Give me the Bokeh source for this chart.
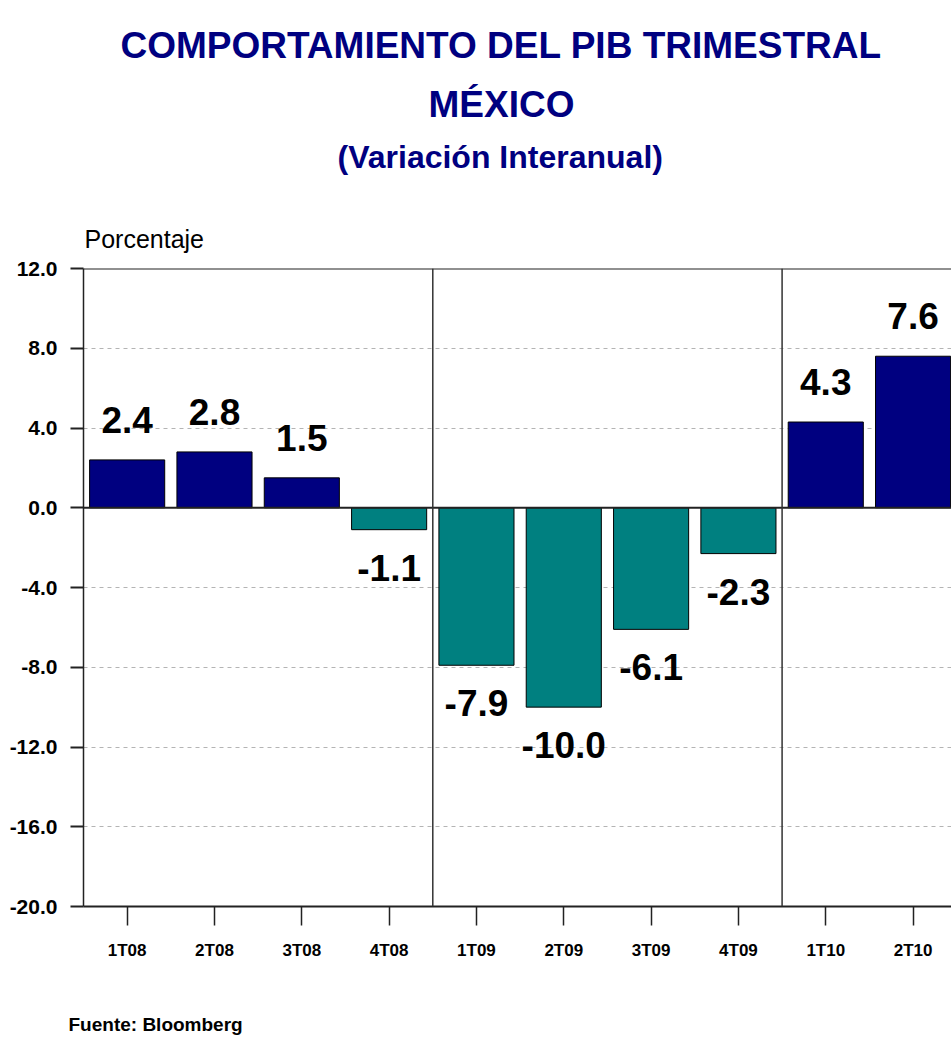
from bokeh.plotting import figure
from bokeh.models import Range1d, FixedTicker, NumeralTickFormatter, Span, Title, ColumnDataSource
from bokeh.core.properties import value
from bokeh.embed import file_html
from bokeh.resources import INLINE

# ---- data ----
quarters = ["1T08", "2T08", "3T08", "4T08", "1T09", "2T09", "3T09", "4T09", "1T10", "2T10"]
pib = [2.4, 2.8, 1.5, -1.1, -7.9, -10.0, -6.1, -2.3, 4.3, 7.6]
y_ticks = [-20, -16, -12, -8, -4, 0, 4, 8, 12]
title_lines = ["COMPORTAMIENTO DEL PIB TRIMESTRAL", "MÉXICO", "(Variación Interanual)"]
y_title = "Porcentaje"
source_note = "Fuente:  Bloomberg"

FONT = "Liberation Sans"
NAVY = "#000080"
TEAL = "#008080"

xs = list(range(len(quarters)))
colors = [NAVY if v >= 0 else TEAL for v in pib]
labels = [f"{v:.1f}" for v in pib]
yoff = [-40 if v >= 0 else 38 for v in pib]
src = ColumnDataSource(dict(x=xs, v=pib, color=colors, label=labels, yoff=yoff))

year_breaks = [i - 0.5 for i in range(1, len(quarters)) if quarters[i][-2:] != quarters[i - 1][-2:]]

p = figure(width=951, height=1038, x_range=Range1d(-0.5, 9.44), y_range=Range1d(-20, 12),
           output_backend="svg", toolbar_location=None, title=None,
           min_border_left=83, min_border_right=0, min_border_top=268, min_border_bottom=132)
p.outline_line_color = None
p.background_fill_color = "white"
p.border_fill_color = "white"

# grid
p.xgrid.visible = False
p.ygrid.ticker = FixedTicker(ticks=y_ticks)
p.ygrid.grid_line_color = "#b4b4b4"
p.ygrid.grid_line_dash = "4 4"
p.ygrid.grid_line_width = 1

# bars
p.vbar(x="x", top="v", bottom=0, width=0.86, fill_color="color", line_color="black",
       line_width=1, source=src)

# zero line, top frame line, year separators
p.add_layout(Span(location=0, dimension="width", line_color="#222222", line_width=2))
p.add_layout(Span(location=y_ticks[-1], dimension="width", line_color="#222222", line_width=2))
for b in year_breaks:
    p.add_layout(Span(location=b, dimension="height", line_color="#333333", line_width=1.5))

# value labels
p.text(x="x", y="v", text="label", source=src, text_align="center", text_baseline="alphabetic",
       y_offset="yoff", text_font=value(FONT), text_font_style="bold", text_font_size="37px",
       text_color="black")

# axes
ya = p.yaxis[0]
ya.ticker = FixedTicker(ticks=y_ticks)
ya.formatter = NumeralTickFormatter(format="0.0")
ya.major_label_text_font = FONT
ya.major_label_text_font_style = "bold"
ya.major_label_text_font_size = "21px"
ya.major_label_text_color = "black"
ya.major_tick_out = 13
ya.major_tick_in = 0
ya.minor_tick_out = 0
ya.minor_tick_in = 0
ya.major_label_standoff = 13
ya.axis_line_color = "#222222"
ya.axis_line_width = 1.5
ya.major_tick_line_color = "#222222"
ya.major_tick_line_width = 2

xa = p.xaxis[0]
xa.ticker = FixedTicker(ticks=xs)
xa.major_label_overrides = {i: q for i, q in zip(xs, quarters)}
xa.major_label_text_font = FONT
xa.major_label_text_font_style = "bold"
xa.major_label_text_font_size = "17px"
xa.major_label_text_color = "black"
xa.major_tick_out = 19
xa.major_tick_in = 0
xa.minor_tick_out = 0
xa.minor_tick_in = 0
xa.major_label_standoff = 15
xa.axis_line_color = "#222222"
xa.axis_line_width = 2
xa.major_tick_line_color = "#222222"
xa.major_tick_line_width = 1.5

# titles stacked above the frame (first added = closest to frame)
p.add_layout(Title(text=y_title, align="left", offset=1, text_font=FONT, text_font_style="normal",
                   text_font_size="25px", text_color="black", standoff=31), "above")
p.add_layout(Title(text=" ", align="left", text_font=FONT, text_font_size="2px",
                   standoff=24), "above")
title_specs = [("32px", 254, 10), ("37px", 345, 13), ("37px", 37, 19)]
for txt, (fs, off, so) in zip(title_lines[::-1], title_specs):
    p.add_layout(Title(text=txt, align="left", offset=off, text_font=FONT, text_font_style="bold",
                       text_font_size=fs, text_color=NAVY, standoff=so), "above")

# source note below the x axis (spacer first)
p.add_layout(Title(text=" ", align="left", text_font=FONT, text_font_size="2px",
                   standoff=45), "below")
p.add_layout(Title(text=source_note, align="left", offset=-15, text_font=FONT,
                   text_font_style="bold", text_font_size="19px", text_color="black",
                   standoff=0), "below")

open("out.html", "w").write(file_html(p, INLINE))
